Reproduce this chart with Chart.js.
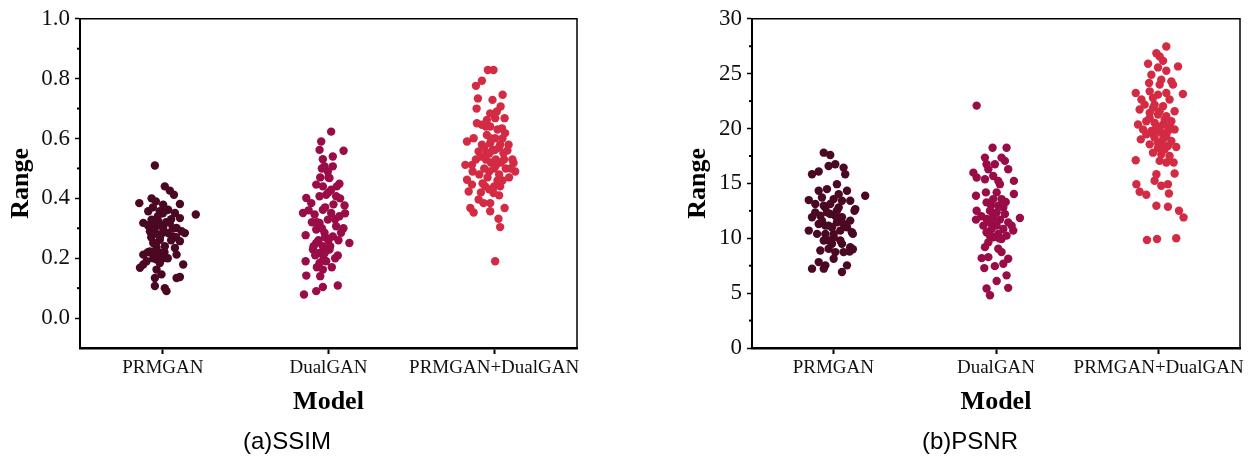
<!DOCTYPE html>
<html>
<head>
<meta charset="utf-8">
<script src="https://cdn.jsdelivr.net/npm/chart.js@4.4.0/dist/chart.umd.min.js"></script>
<style>
  body { margin: 0; background: #fff; width: 1253px; height: 467px; position: relative; overflow: hidden; }
  .box { position: absolute; top: 0; height: 467px; }
  #boxA { left: 0; width: 600px; }
  #boxB { left: 640px; width: 613px; }
  .cap { position: absolute; top: 427px; line-height: 28px; font: 24px "Liberation Sans", Arial, sans-serif; color: #000; transform: translateX(-50%); white-space: nowrap; }
</style>
</head>
<body>
<div class="box" id="boxA"><canvas id="ssimChart" width="600" height="467"></canvas></div>
<div class="box" id="boxB"><canvas id="psnrChart" width="613" height="467"></canvas></div>
<div class="cap" style="left:287px">(a)SSIM</div>
<div class="cap" style="left:970px">(b)PSNR</div>
<script>
// categories
const models = ['PRMGAN', 'DualGAN', 'PRMGAN+DualGAN'];
const colors = ['#4b0823', '#9a0c47', '#d42b45'];

// y ticks
const ssimTicks = [0, 0.2, 0.4, 0.6, 0.8, 1.0];
const ssimMinor = [0.1, 0.3, 0.5, 0.7, 0.9];
const psnrTicks = [0, 5, 10, 15, 20, 25, 30];
const psnrMinor = [2.5, 7.5, 12.5, 17.5, 22.5, 27.5];

// points: [jitter offset from category, value]
const ssimPrmgan = [
  [-0.048,0.51],[0.012,0.44],[0.042,0.426],[0.067,0.412],[-0.142,0.384],[-0.068,0.4],[-0.042,0.39],[0.103,0.381],
  [0.002,0.379],[0.199,0.346],[-0.088,0.357],[-0.018,0.357],[0.032,0.362],[0.073,0.351],[0.103,0.334],[-0.118,0.318],
  [-0.068,0.329],[-0.028,0.323],[0.042,0.318],[-0.058,0.307],[0.002,0.301],[0.083,0.301],[0.113,0.29],[-0.078,0.29],
  [-0.028,0.279],[0.032,0.284],[0.063,0.273],[0.133,0.284],[0.103,0.257],[-0.018,0.262],[-0.058,0.251],[0.012,0.24],
  [-0.038,0.234],[0.073,0.234],[-0.078,0.223],[-0.018,0.218],[-0.118,0.212],[-0.058,0.2],[0.002,0.2],[-0.098,0.19],
  [-0.038,0.196],[0.083,0.212],[-0.138,0.168],[-0.118,0.179],[-0.018,0.184],[0.123,0.179],[-0.038,0.162],[-0.008,0.146],
  [-0.048,0.134],[0.083,0.134],[0.103,0.137],[-0.048,0.107],[0.012,0.1],[0.022,0.09],
  [-0.06,0.37],[0.0,0.35],[-0.03,0.34],[0.05,0.33],[-0.09,0.31],[0.02,0.32],[-0.01,0.28],[0.05,0.26],
  [-0.07,0.27],[0.08,0.27],[-0.04,0.25],[0.01,0.22],[-0.09,0.22],[0.03,0.2],[-0.05,0.21],[0.06,0.3],
  [-0.02,0.31],[0.02,0.36],[-0.05,0.29]
];
const ssimDualgan = [
  [0.016,0.623],[-0.044,0.59],[-0.054,0.562],[0.091,0.559],[0.026,0.54],[-0.034,0.531],[-0.024,0.507],[0.026,0.507],
  [-0.004,0.49],[0.006,0.468],[-0.074,0.446],[0.066,0.449],[-0.034,0.44],[0.016,0.429],[-0.134,0.401],[-0.104,0.384],
  [-0.054,0.407],[-0.014,0.412],[0.046,0.407],[0.097,0.376],[-0.154,0.351],[-0.084,0.346],[-0.034,0.362],[0.016,0.351],
  [0.066,0.34],[-0.054,0.318],[-0.004,0.329],[0.046,0.307],[0.076,0.285],[-0.074,0.296],[-0.024,0.285],[-0.138,0.277],
  [0.026,0.273],[0.126,0.251],[-0.074,0.251],[-0.034,0.24],[-0.094,0.229],[0.006,0.229],[-0.054,0.218],[0.056,0.209],
  [-0.138,0.19],[-0.054,0.184],[-0.014,0.19],[-0.034,0.162],[-0.134,0.142],[0.056,0.109],[-0.034,0.104],[-0.074,0.09],
  [-0.148,0.079],
  [-0.07,0.32],[-0.04,0.3],[0.0,0.26],[-0.06,0.26],[-0.02,0.22],[-0.09,0.24],[0.03,0.38],[-0.02,0.37],
  [0.0,0.42],[-0.05,0.47],[0.04,0.33],[-0.1,0.32],[-0.03,0.2],[0.02,0.17],[-0.07,0.17],[0.05,0.44],
  [0.1,0.35],[-0.12,0.36],[0.07,0.4],[0.09,0.3],[-0.04,0.5],[0.0,0.47],[-0.02,0.27],[0.01,0.24],
  [-0.08,0.21],[-0.05,0.14],[0.04,0.2],[0.06,0.26]
];
const ssimBoth = [
  [-0.038,0.829],[-0.004,0.829],[-0.074,0.793],[-0.11,0.776],[0.051,0.746],[-0.098,0.734],[-0.01,0.729],[-0.106,0.7],
  [0.039,0.707],[-0.024,0.684],[0.016,0.69],[0.063,0.668],[-0.044,0.662],[0.006,0.668],[-0.104,0.651],[-0.074,0.646],
  [-0.024,0.64],[0.047,0.634],[0.066,0.618],[-0.044,0.612],[0.006,0.601],[-0.124,0.601],[-0.164,0.59],[-0.074,0.579],
  [-0.024,0.584],[0.036,0.579],[0.087,0.579],[-0.094,0.557],[-0.044,0.551],[0.006,0.562],[0.056,0.551],[-0.174,0.512],
  [-0.134,0.512],[0.117,0.518],[0.127,0.49],[-0.164,0.462],[-0.134,0.446],[-0.054,0.44],[0.036,0.44],[-0.154,0.423],
  [-0.004,0.418],[-0.094,0.396],[-0.064,0.384],[-0.024,0.384],[-0.144,0.368],[-0.124,0.353],[-0.024,0.357],[0.063,0.368],
  [0.026,0.332],[0.036,0.304],[0.006,0.19],
  [-0.08,0.54],[-0.05,0.53],[-0.02,0.52],[0.01,0.53],[0.04,0.52],[0.07,0.5],[-0.06,0.5],[-0.03,0.49],
  [0.0,0.5],[0.03,0.48],[0.06,0.53],[-0.09,0.48],[-0.04,0.47],[0.02,0.46],[0.09,0.47],[-0.01,0.56],
  [0.03,0.57],[-0.06,0.57],[0.08,0.56],[-0.11,0.53],[0.11,0.53],[-0.02,0.6],[0.05,0.6],[-0.07,0.45],
  [0.0,0.44],[-0.03,0.43],[0.03,0.41],[-0.08,0.42],[0.05,0.46],[-0.13,0.49],[0.1,0.5],[0.02,0.63],
  [-0.05,0.64],[0.01,0.51],[-0.03,0.55]
];

const psnrPrmgan = [
  [-0.059,17.8],[-0.019,17.59],[-0.029,16.59],[0.012,16.74],[-0.131,15.83],[-0.09,16.08],[0.063,16.44],[0.073,15.83],
  [0.022,14.93],[-0.09,14.33],[-0.039,14.48],[0.084,14.33],[-0.151,13.48],[0.196,13.87],[-0.07,13.72],[0.002,13.57],
  [0.053,13.42],[0.104,13.42],[-0.111,13.12],[-0.049,12.81],[0.033,12.81],[0.135,12.66],[-0.131,11.91],[-0.08,12.06],
  [-0.019,12.21],[0.053,11.91],[0.104,11.61],[-0.09,11.3],[-0.029,11.15],[0.022,11.46],[0.084,11.0],[-0.151,10.7],
  [0.114,10.55],[-0.049,10.4],[0.002,10.4],[-0.059,9.79],[-0.008,9.49],[0.043,9.79],[0.053,9.49],[0.104,9.19],
  [-0.08,8.89],[-0.029,9.04],[0.012,8.74],[0.063,8.74],[-0.09,7.83],[-0.049,7.53],[0.002,8.13],[0.084,7.53],
  [-0.131,7.23],[0.053,6.92],[-0.059,7.23],
  [-0.039,12.36],[0.012,12.06],[-0.07,11.61],[-0.008,11.0],[0.043,10.7],[-0.049,11.15],[-0.111,12.36],[-0.019,13.12],
  [0.033,14.02],[-0.059,12.97],[0.002,10.09],[-0.029,9.79],[-0.1,10.4],[0.022,12.51],[0.063,11.3],[0.13,12.5],
  [0.12,10.4],[0.12,9.0],[0.1,8.8]
];
const psnrDualgan = [
  [-0.119,22.09],[-0.021,18.25],[0.065,18.25],[-0.068,17.35],[0.034,17.35],[0.055,17.05],[-0.058,16.74],[-0.007,16.74],
  [0.075,16.29],[-0.139,15.98],[-0.119,15.54],[-0.047,16.29],[-0.068,15.38],[-0.017,15.68],[0.014,15.23],[0.11,15.23],
  [0.024,14.93],[-0.123,13.87],[-0.062,14.18],[0.11,14.03],[0.004,14.18],[-0.017,13.57],[0.034,13.57],[-0.058,13.27],
  [0.014,12.97],[0.045,12.81],[-0.119,12.51],[-0.123,11.7],[0.147,11.85],[0.096,11.15],[0.106,10.7],
  [-0.037,12.51],[0.004,12.36],[0.055,12.21],[-0.017,12.06],[-0.058,11.76],[0.024,11.7],[0.075,11.45],[-0.037,11.45],
  [-0.078,11.15],[0.004,11.15],[0.045,10.85],[-0.027,10.85],[-0.058,10.55],[0.014,10.4],[0.065,10.24],[-0.017,10.09],
  [0.034,9.94],[-0.047,9.64],[-0.068,9.19],[0.014,9.04],[0.034,8.74],[-0.088,8.19],[-0.047,8.28],[0.075,8.13],
  [-0.072,7.28],[-0.007,7.46],[0.045,7.68],[0.065,6.62],[0.004,6.11],[-0.058,5.42],[0.075,5.48],[-0.037,4.81],
  [-0.03,13.0],[0.06,13.3],[-0.09,12.0],[0.0,11.5],[0.02,10.0],[-0.04,10.3]
];
const psnrBoth = [
  [0.047,27.47],[-0.014,26.86],[0.006,26.56],[0.027,26.17],[-0.065,25.9],[-0.004,25.57],[0.119,25.66],[0.047,25.27],
  [-0.045,24.9],[0.016,24.45],[0.078,24.3],[0.088,24.0],[-0.059,24.15],[0.006,24.0],[-0.141,23.24],[-0.055,23.39],
  [-0.004,23.09],[0.047,23.24],[0.149,23.15],[-0.106,22.64],[-0.035,22.79],[0.067,22.64],[-0.086,22.18],[-0.025,22.18],
  [0.027,22.03],[0.098,21.58],[-0.117,21.73],[-0.055,21.43],[-0.004,21.28],[0.047,21.13],[-0.127,20.37],[-0.076,20.67],
  [-0.025,20.52],[0.027,20.37],[0.078,20.67],[-0.096,19.92],[-0.045,19.77],[0.006,20.07],[0.057,19.77],[0.098,19.92],
  [-0.11,19.01],[-0.025,19.17],[0.027,19.01],[0.078,18.86],[-0.055,18.56],[-0.004,18.25],[0.057,18.41],[0.108,18.32],
  [-0.035,17.8],[0.016,17.65],[0.067,17.5],[-0.141,17.11],[0.006,17.05],[0.047,16.9],[0.092,16.9],[-0.014,15.84],
  [0.098,15.9],[-0.025,15.24],[0.016,14.78],[0.057,14.93],[-0.137,14.93],[0.063,14.08],[-0.117,14.24],[-0.076,13.96],
  [-0.014,12.97],[0.057,12.87],[0.125,12.51],[0.153,11.9],[-0.072,9.85],[-0.01,9.94],[0.108,10.0],
  [-0.035,21.88],[0.006,21.58],[0.037,20.82],[-0.014,20.22],[-0.055,20.97],[0.016,19.62],[0.047,19.32],[-0.035,19.47],
  [-0.004,18.71],[0.037,18.1],[-0.076,19.47],[0.067,20.22],[-0.014,19.77],[0.027,18.41]
];

const serif = '"Liberation Serif", "Times New Roman", serif';

// top/right frame and small minor ticks on the y axis
const framePlugin = {
  id: 'frame',
  afterDraw(chart, args, opts) {
    const { ctx, chartArea: a, scales: { y } } = chart;
    ctx.save();
    ctx.strokeStyle = '#000';
    ctx.lineWidth = 1.5;
    ctx.beginPath();
    ctx.moveTo(a.left, a.top);
    ctx.lineTo(a.right, a.top);
    ctx.lineTo(a.right, a.bottom);
    ctx.stroke();
    ctx.lineWidth = 2;
    opts.minor.forEach(v => {
      const py = y.getPixelForValue(v);
      ctx.beginPath();
      ctx.moveTo(a.left - 3, py);
      ctx.lineTo(a.left + 1, py);
      ctx.stroke();
    });
    ctx.restore();
  }
};

function makeChart(id, groups, opts) {
  const datasets = groups.map((pts, i) => ({
    data: pts.map(p => ({ x: i + p[0], y: p[1] })),
    backgroundColor: colors[i],
    borderWidth: 0,
    pointRadius: 4.2,
    pointHoverRadius: 4.2
  }));

  new Chart(document.getElementById(id), {
    type: 'scatter',
    data: { datasets },
    plugins: [framePlugin],
    options: {
      responsive: false,
      animation: false,
      layout: { padding: { top: 17, right: opts.padRight, left: 0, bottom: 0 } },
      plugins: {
        legend: { display: false },
        tooltip: { enabled: false },
        frame: { minor: opts.minor }
      },
      scales: {
        x: {
          type: 'linear',
          min: -0.5,
          max: 2.5,
          afterBuildTicks: s => { s.ticks = models.map((m, i) => ({ value: i })); },
          afterFit: s => { s.height = 119; },
          grid: { drawOnChartArea: false, drawTicks: true, tickLength: 6, tickWidth: 2, tickColor: '#000' },
          border: { color: '#000', width: 2.5 },
          ticks: {
            padding: 3,
            color: '#111',
            font: { family: serif, size: 19 },
            maxRotation: 0,
            autoSkip: false,
            callback: v => models[v]
          },
          title: {
            display: true,
            text: 'Model',
            color: '#000',
            font: { family: serif, size: 26, weight: 'bold' },
            padding: { top: 0, bottom: 49 }
          }
        },
        y: {
          min: opts.yMin,
          max: opts.yMax,
          afterBuildTicks: s => { s.ticks = opts.ticks.map(v => ({ value: v })); },
          afterFit: s => { s.width = opts.yWidth; },
          grid: { drawOnChartArea: false, drawTicks: true, tickLength: 5, tickWidth: 1.5, tickColor: '#000' },
          border: { color: '#000', width: 2 },
          ticks: {
            padding: 5,
            color: '#111',
            font: { family: serif, size: 23 },
            callback: opts.fmt
          },
          title: {
            display: true,
            text: 'Range',
            color: '#000',
            font: { family: serif, size: 26, weight: 'bold' },
            padding: { top: opts.titlePad, bottom: 0 }
          }
        }
      }
    }
  });
}

makeChart('ssimChart', [ssimPrmgan, ssimDualgan, ssimBoth], {
  yMin: -0.1, yMax: 1.0, ticks: ssimTicks, minor: ssimMinor,
  fmt: v => v.toFixed(1), yWidth: 80, padRight: 23, titlePad: 6
});
makeChart('psnrChart', [psnrPrmgan, psnrDualgan, psnrBoth], {
  yMin: 0, yMax: 30, ticks: psnrTicks, minor: psnrMinor,
  fmt: v => String(v), yWidth: 112, padRight: 13, titlePad: 43
});
</script>
</body>
</html>
